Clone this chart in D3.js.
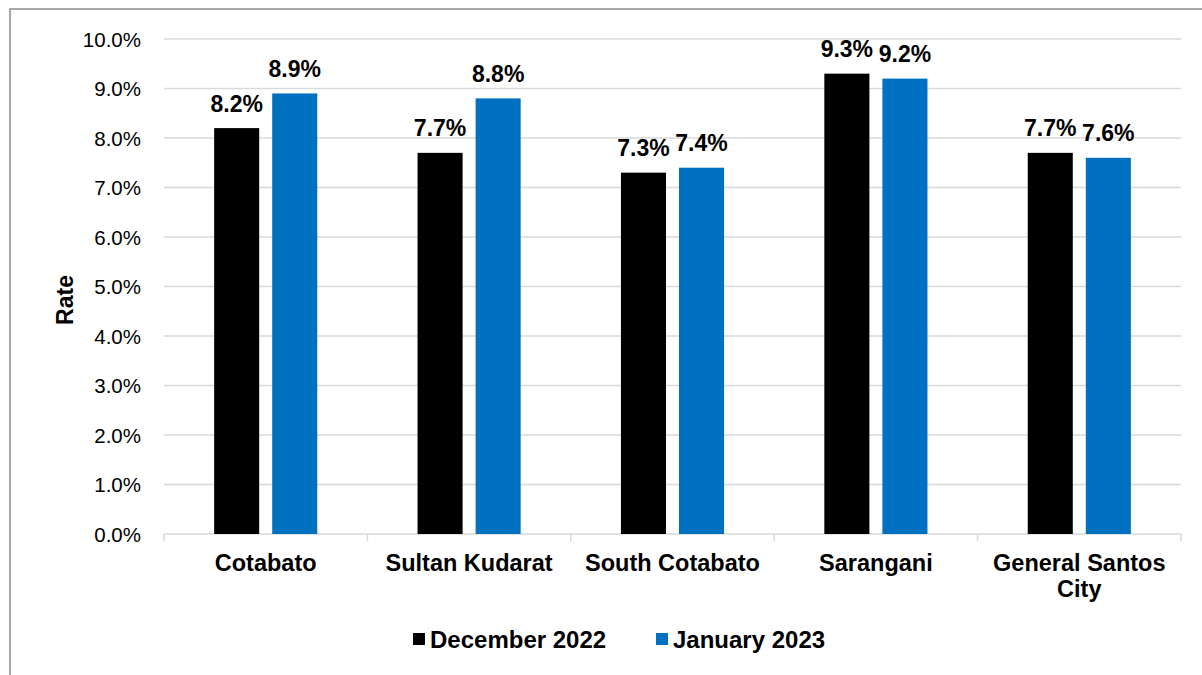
<!DOCTYPE html>
<html>
<head>
<meta charset="utf-8">
<script src="https://cdn.jsdelivr.net/npm/d3@7"></script>
<style>
  html, body { margin: 0; padding: 0; background: #ffffff; }
  svg { display: block; font-family: "Liberation Sans", Arial, sans-serif; }
</style>
</head>
<body>
<svg id="chart" width="1202" height="675"></svg>
<script>
const categories = ["Cotabato", "Sultan Kudarat", "South Cotabato", "Sarangani", "General Santos City"];
const seriesNames = ["December 2022", "January 2023"];
const dec2022 = [8.2, 7.7, 7.3, 9.3, 7.7];
const jan2023 = [8.9, 8.8, 7.4, 9.2, 7.6];
const seriesColors = ["#000000", "#0070C0"];
const yTicks = [0, 1, 2, 3, 4, 5, 6, 7, 8, 9, 10];
const yAxisTitle = "Rate";

const seriesValues = [dec2022, jan2023];
const svg = d3.select("#chart");

// outer frame
svg.append("rect")
  .attr("x", 10).attr("y", 9)
  .attr("width", 1220).attr("height", 700)
  .attr("fill", "none").attr("stroke", "#8c8c8c").attr("stroke-width", 1.5);

const plot = { left: 164, right: 1181, top: 39, bottom: 534 };

const x0 = d3.scaleBand().domain(categories).range([plot.left, plot.right]).padding(0);
const groupW = x0.bandwidth() * 0.507;
const x1 = d3.scaleBand().domain(seriesNames).range([0, groupW]).paddingInner(0.224).paddingOuter(0);
const y = d3.scaleLinear().domain([0, 10]).range([plot.bottom, plot.top]);

// gridlines
svg.append("g").selectAll("line").data(yTicks.filter(d => d > 0)).join("line")
  .attr("x1", plot.left).attr("x2", plot.right)
  .attr("y1", d => y(d)).attr("y2", d => y(d))
  .attr("stroke", "#d9d9d9").attr("stroke-width", 1.5);

// y axis labels
const yAxis = d3.axisLeft(y).tickValues(yTicks).tickFormat(d => d.toFixed(1) + "%").tickSize(0).tickPadding(0);
const gy = svg.append("g").attr("transform", `translate(141,0)`).call(yAxis);
gy.select(".domain").remove();
gy.selectAll("text")
  .attr("font-family", "Liberation Sans, Arial, sans-serif")
  .attr("font-size", "20.5px").attr("fill", "#000").attr("dy", "0.35em");

// x axis line and ticks
const gx = svg.append("g");
gx.append("line").attr("x1", plot.left).attr("x2", plot.right)
  .attr("y1", y(0)).attr("y2", y(0)).attr("stroke", "#d9d9d9").attr("stroke-width", 1.5);
const boundaries = categories.map(c => x0(c)).concat([x0(categories[categories.length - 1]) + x0.bandwidth()]);
gx.selectAll("line.tk").data(boundaries).join("line").attr("class", "tk")
  .attr("x1", d => d).attr("x2", d => d)
  .attr("y1", y(0)).attr("y2", y(0) + 7)
  .attr("stroke", "#d9d9d9").attr("stroke-width", 1.5);

// bars
const groups = svg.append("g").selectAll("g").data(categories).join("g")
  .attr("transform", c => `translate(${x0(c) + (x0.bandwidth() - groupW) / 2},0)`);

groups.each(function (c, i) {
  const g = d3.select(this);
  const rows = seriesNames.map((s, k) => ({ s, k, v: seriesValues[k][i] }));
  g.selectAll("rect").data(rows).join("rect")
    .attr("x", d => x1(d.s)).attr("width", x1.bandwidth())
    .attr("y", d => y(d.v)).attr("height", d => y(0) - y(d.v))
    .attr("fill", d => seriesColors[d.k]);
  g.selectAll("text").data(rows).join("text")
    .attr("x", d => x1(d.s) + x1.bandwidth() / 2)
    .attr("y", d => y(d.v) - 16.5)
    .attr("text-anchor", "middle")
    .attr("font-size", "23px").attr("font-weight", "bold").attr("fill", "#000")
    .text(d => d.v.toFixed(1) + "%");
});

// category labels with wrapping
const catG = svg.append("g");
categories.forEach(c => {
  const t = catG.append("text")
    .attr("x", x0(c) + x0.bandwidth() / 2).attr("y", 571)
    .attr("text-anchor", "middle")
    .attr("font-size", "23.5px").attr("font-weight", "bold").attr("fill", "#000");
  const words = c.split(" ");
  let line = [];
  let lineNo = 0;
  let ts = t.append("tspan").attr("x", x0(c) + x0.bandwidth() / 2).attr("y", 571);
  words.forEach(w => {
    line.push(w);
    ts.text(line.join(" "));
    if (ts.node().getComputedTextLength() > x0.bandwidth() - 6 && line.length > 1) {
      line.pop();
      ts.text(line.join(" "));
      line = [w];
      lineNo++;
      ts = t.append("tspan").attr("x", x0(c) + x0.bandwidth() / 2).attr("y", 571 + lineNo * 26).text(w);
    }
  });
});

// y axis title
svg.append("text")
  .attr("transform", "translate(73,300) rotate(-90)")
  .attr("text-anchor", "middle")
  .attr("font-size", "23px").attr("font-weight", "bold").attr("fill", "#000")
  .text(yAxisTitle);

// legend
const legendX = [413, 656];
const leg = svg.append("g");
seriesNames.forEach((s, k) => {
  leg.append("rect").attr("x", legendX[k]).attr("y", 633).attr("width", 12).attr("height", 12)
    .attr("fill", seriesColors[k]);
  leg.append("text").attr("x", legendX[k] + 17).attr("y", 648)
    .attr("font-size", "24px").attr("font-weight", "bold").attr("fill", "#000").text(s);
});
</script>
</body>
</html>
